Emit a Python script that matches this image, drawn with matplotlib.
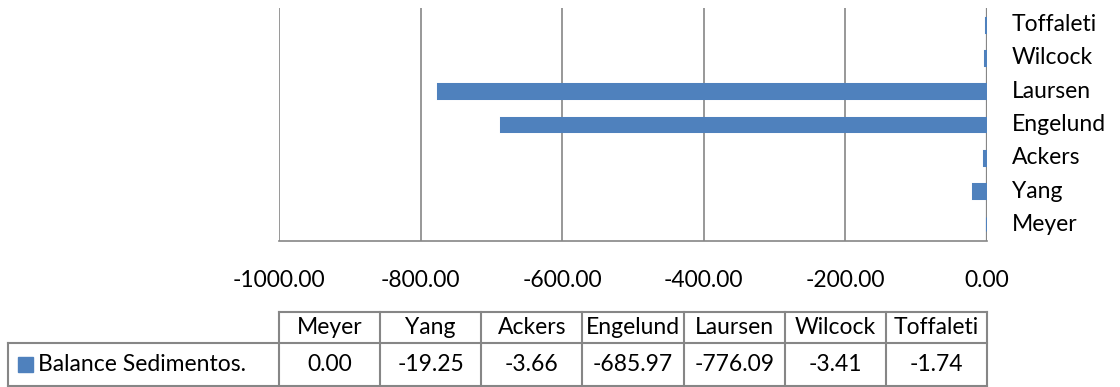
import matplotlib.pyplot as plt
from matplotlib.patches import Rectangle
from matplotlib.ticker import FormatStrFormatter, MultipleLocator

plt.rcParams["font.family"] = ["Lato", "DejaVu Sans"]

categories = ["Meyer", "Yang", "Ackers", "Engelund", "Laursen", "Wilcock", "Toffaleti"]
values = [0.00, -19.25, -3.66, -685.97, -776.09, -3.41, -1.74]
series_name = "Balance Sedimentos."

BAR = "#4F81BD"
GRID = "#868686"
W, H = 1120, 387
FS = 16.5

fig = plt.figure(figsize=(W / 100, H / 100), dpi=100)

# main chart area in pixel coordinates
left, right, top, bottom = 279, 987, 8, 241
ax = fig.add_axes([left / W, 1 - bottom / H, (right - left) / W, (bottom - top) / H])
ypos = list(range(len(categories)))
ax.barh(ypos, values, height=0.42, color=BAR, edgecolor=BAR, lw=2.2, zorder=4)
ax.set_xlim(-1000, 0)
ax.set_ylim(-0.5, len(categories) - 0.5)
ax.xaxis.set_major_locator(MultipleLocator(200))
ax.xaxis.set_major_formatter(FormatStrFormatter("%.2f"))
ax.tick_params(axis="x", length=0, pad=21, labelsize=FS)
ax.set_yticks([])
ax.grid(axis="x", color=GRID, lw=1.2, zorder=0)
for s in ["top", "left", "right"]:
    ax.spines[s].set_visible(False)
ax.spines["bottom"].set_color(GRID)
ax.spines["bottom"].set_linewidth(1.2)
ax.axvline(0, color=GRID, lw=1.6, zorder=3)
for y, name in zip(ypos, categories):
    ax.annotate(name, (0, y), xytext=(18, 0), textcoords="offset points",
                ha="left", va="center", fontsize=FS)

# data table underneath
t_top, t_mid, t_bot, t_left = 312, 343, 386, 8
tab = fig.add_axes([0, 0, 1, 1])
tab.set_xlim(0, W)
tab.set_ylim(H, 0)
tab.axis("off")
n = len(categories)
cw = (right - left) / n
edges = [left + i * cw for i in range(n + 1)]
lc = dict(color=GRID, lw=1.5)
tab.plot([left, right], [t_top, t_top], **lc)
tab.plot([t_left, right], [t_mid, t_mid], **lc)
tab.plot([t_left, right], [t_bot, t_bot], **lc)
tab.plot([t_left, t_left], [t_mid, t_bot], **lc)
for x in edges:
    tab.plot([x, x], [t_top, t_bot], **lc)
for i, (name, v) in enumerate(zip(categories, values)):
    cx = (edges[i] + edges[i + 1]) / 2
    tab.text(cx, (t_top + t_mid) / 2, name, ha="center", va="center", fontsize=FS)
    tab.text(cx, (t_mid + t_bot) / 2, f"{v:.2f}", ha="center", va="center", fontsize=FS)
cy = (t_mid + t_bot) / 2
tab.add_patch(Rectangle((18, cy - 7.5), 15, 15, color=BAR))
tab.text(38, cy, series_name, ha="left", va="center", fontsize=FS)

fig.savefig("out.png", dpi=100)
